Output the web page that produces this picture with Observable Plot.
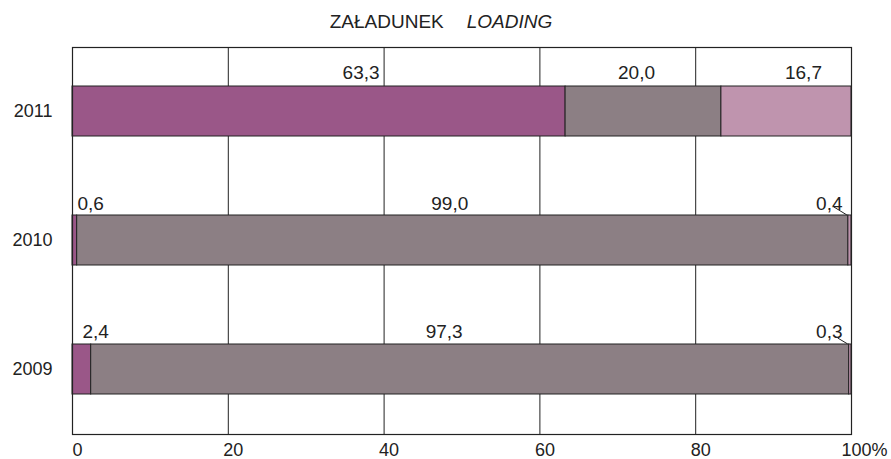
<!DOCTYPE html>
<html>
<head>
<meta charset="utf-8">
<script src="https://cdn.jsdelivr.net/npm/d3@7"></script>
<script src="https://cdn.jsdelivr.net/npm/@observablehq/plot@0.6"></script>
<style>
  html, body { margin: 0; padding: 0; background: #fff; }
  body { width: 891px; height: 459px; overflow: hidden; font-family: "Liberation Sans", Arial, sans-serif; color: #222; }
  #title { box-sizing: border-box; height: 40px; padding-top: 12px; padding-right: 9px; font-size: 19px; line-height: 19px; text-align: center; white-space: nowrap; }
  #title .en { font-style: italic; margin-left: 23px; }
  #chart svg { display: block; }
</style>
</head>
<body>
<div id="title">ZAŁADUNEK<span class="en">LOADING</span></div>
<div id="chart"></div>
<script>
// ---- data ----
const years = ["2011", "2010", "2009"];
const seriesNames = ["A", "B", "C"];
const valuesA = [63.3, 0.6, 2.4];
const valuesB = [20.0, 99.0, 97.3];
const valuesC = [16.7, 0.4, 0.3];
const labelTexts = [["63,3", "20,0", "16,7"], ["0,6", "99,0", "0,4"], ["2,4", "97,3", "0,3"]];
const xTicks = [0, 20, 40, 60, 80, 100];
const seriesColors = ["#9a5788", "#8c7f84", "#bf94ae"];

// ---- table ----
const seriesValues = [valuesA, valuesB, valuesC];
const rows = [];
years.forEach((year, i) => {
  let cum = 0;
  seriesNames.forEach((s, j) => {
    const v = seriesValues[j][i];
    rows.push({year, series: s, value: v, start: cum, end: cum + v, text: labelTexts[i][j]});
    cum += v;
  });
});

// label placement (layout only)
const placement = {
  "2011": [{at: "mid", dx: 42, dy: -39}, {at: "mid", dx: -7, dy: -39}, {at: "mid", dx: 17, dy: -39}],
  "2010": [{at: "start", dx: 5, dy: -37}, {at: "mid", dx: -13, dy: -37}, {at: "end", dx: -9, dy: -37, leader: true}],
  "2009": [{at: "start", dx: 10, dy: -38}, {at: "mid", dx: -26, dy: -38}, {at: "end", dx: -9, dy: -38, leader: true}]
};
const labelMarks = rows.map(r => {
  const p = placement[r.year][seriesNames.indexOf(r.series)];
  const xv = p.at === "mid" ? (r.start + r.end) / 2 : p.at === "start" ? r.start : r.end;
  return Plot.text([r], {
    x: () => xv, y: "year", text: "text",
    textAnchor: p.at === "mid" ? "middle" : p.at,
    dx: p.dx, dy: p.dy, fontSize: 19, fill: "#222"
  });
});

const plot = Plot.plot({
  width: 891,
  height: 419,
  marginTop: 7,
  marginBottom: 25,
  marginLeft: 72,
  marginRight: 40,
  style: {fontFamily: "'Liberation Sans', Arial, sans-serif", color: "#222", background: "#fff"},
  x: {domain: [0, 100], label: null},
  y: {domain: years, paddingInner: 0.612, paddingOuter: 0.306, label: null},
  color: {domain: seriesNames, range: seriesColors},
  marks: [
    Plot.ruleX(xTicks.filter(t => t > 0 && t < 100), {stroke: "#222", strokeWidth: 1}),
    Plot.barX(rows, {x1: "start", x2: "end", y: "year", fill: "series", stroke: "#222", strokeWidth: 1}),
    Plot.frame({stroke: "#222", strokeWidth: 1.2}),
    Plot.axisY({tickSize: 0, tickPadding: 20, fontSize: 18, label: null}),
    Plot.axisX({ticks: xTicks.filter(t => t < 100), tickSize: 0, tickPadding: 9, fontSize: 18, dx: 5, label: null}),
    Plot.axisX({ticks: xTicks.filter(t => t === 100), tickSize: 0, tickPadding: 9, fontSize: 18, dx: -10, textAnchor: "start", tickFormat: d => d + "%", label: null}),
    ...labelMarks
  ]
});
document.getElementById("chart").appendChild(plot);

// leader lines for the tiny end segments, placed through the plot's own scales
const sx = plot.scale("x"), sy = plot.scale("y");
const xs = d3.scaleLinear(sx.domain, sx.range);
const ys = d3.scaleBand(sy.domain, sy.range).paddingInner(sy.paddingInner).paddingOuter(sy.paddingOuter).align(sy.align ?? 0.5);
const leaderOffsets = {"2010": [-13, -8], "2009": [-10, -6]};
const leaders = rows.filter(r => placement[r.year][seriesNames.indexOf(r.series)].leader);
d3.select(plot).append("g")
  .attr("stroke", "#222").attr("stroke-width", 1)
  .selectAll("line").data(leaders).join("line")
  .attr("x1", d => xs(d.start) - 1)
  .attr("y1", d => ys(d.year) - 0.5)
  .attr("x2", d => xs(d.start) - 1 + leaderOffsets[d.year][0])
  .attr("y2", d => ys(d.year) - 0.5 + leaderOffsets[d.year][1]);
</script>
</body>
</html>
